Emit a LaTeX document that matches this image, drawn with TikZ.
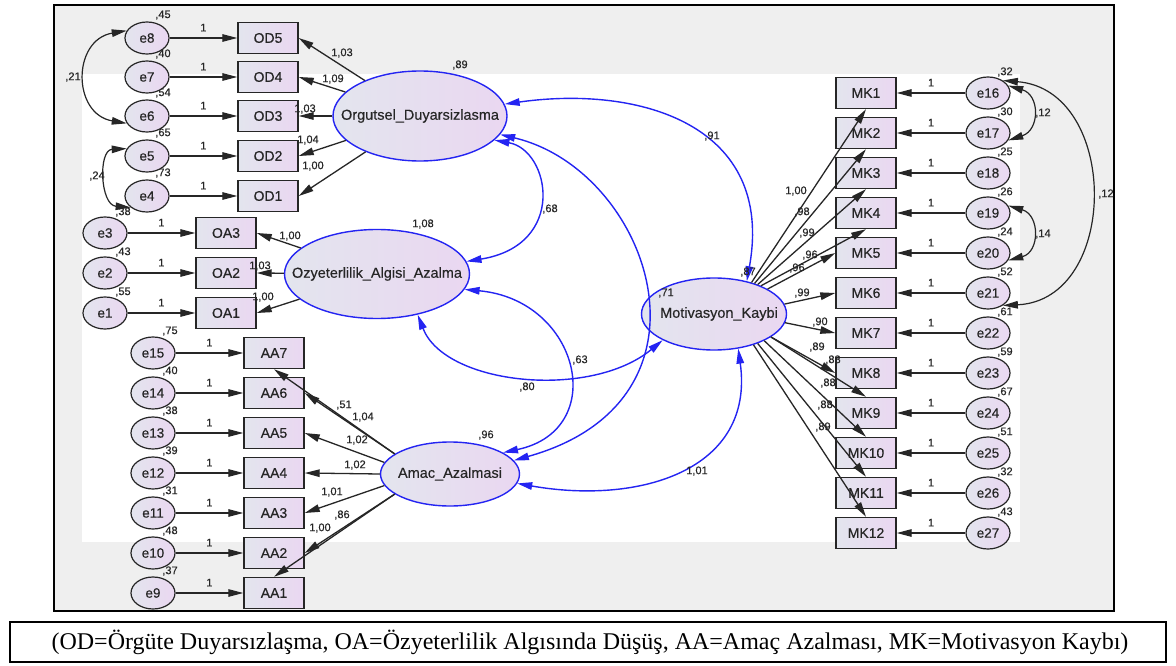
\documentclass[tikz,border=0pt]{standalone}
\usepackage{fontspec}
\setmainfont{Liberation Serif}
\setsansfont{Liberation Sans}
\newfontfamily\amosfont{Liberation Sans}[FakeBold=0.35]
\usetikzlibrary{arrows.meta,positioning,calc,shapes.geometric}
\definecolor{ink}{HTML}{262626}
\definecolor{covblue}{HTML}{2424F2}
\definecolor{fillA}{HTML}{E3E5EE}
\definecolor{fillB}{HTML}{EAD7F1}
\definecolor{panel}{HTML}{EFEFEF}
\tikzset{
  obs/.style={draw=ink,line width=1.4pt,minimum width=60pt,minimum height=31pt,inner sep=0pt,
    left color=fillA,right color=fillB,font=\amosfont\fontsize{14}{14}\selectfont,text=ink},
  err/.style={ellipse,draw=ink,line width=1.2pt,minimum width=44pt,minimum height=32pt,inner sep=0pt,
    left color=fillA,right color=fillB,font=\amosfont\fontsize{13.5}{14}\selectfont,text=ink},
  lat/.style 2 args={ellipse,draw=covblue,line width=1.4pt,inner sep=0pt,minimum width=#1pt,
    minimum height=#2pt,left color=fillA,right color=fillB},
  latname/.style={inner sep=0pt,font=\amosfont\fontsize{14.5}{15}\selectfont,text=ink},
  arr/.style={-{Triangle[length=15pt,width=7.5pt]},line width=1.3pt,draw=ink},
  covar/.style={{Triangle[length=15pt,width=7.5pt]}-{Triangle[length=15pt,width=7.5pt]},
    line width=1.4pt,draw=covblue},
  ecov/.style={covar,draw=ink,line width=1.2pt},
  num/.style={inner sep=0pt,font=\amosfont\fontsize{11}{11}\selectfont,text=ink}
}

\begin{document}
\begin{tikzpicture}[x=1pt,y=-1pt]
 \useasboundingbox (0,0) rectangle (1176,666);
 \fill[white] (0,0) rectangle (1176,666);
 % frame
 \draw[line width=2pt,fill=panel] (54,5) rectangle (1114,611);
 \fill[white] (82,74) rectangle (1020,542);
 \draw[line width=1.6pt] (10,622) rectangle (1166,662);
 \node[font=\rmfamily\fontsize{24}{24}\selectfont] (cap) at (590,642)
   {(OD=Örgüte Duyarsızlaşma, OA=Özyeterlilik Algısında Düşüş, AA=Amaç Azalması, MK=Motivasyon Kaybı)};

 % latent variables
 \node[lat={174}{90}] (org) at (420,116) {};
 \node[latname] (orgname) at (org) {Orgutsel\_Duyarsizlasma};
 \node[lat={185}{89}] (oza) at (377,274) {};
 \node[latname] (ozaname) at (oza) {Ozyeterlilik\_Algisi\_Azalma};
 \node[lat={139}{64}] (amac) at (450,474) {};
 \node[latname] (amacname) at (amac) {Amac\_Azalmasi};
 \node[lat={145}{72}] (mot) at (714,314) {};
 \node[latname] (motname) at (719,314) {Motivasyon\_Kaybi};

 % indicators with their errors
 \foreach \k/\y/\v in {1/196/{,73},2/156/{,65},3/116/{,54},4/77/{,40},5/38/{,45}}{
   \pgfmathtruncatemacro\e{\k+3}
   \node[err] (e\e) at (147,\y) {e\e};
   \node[obs] (od\k) at (268,\y) {OD\k};
   \node[num] (ve\e) at (163,\y-23) {\v};
   \draw[arr] (e\e) -- node[num,above=6pt] (one\e) {1} (od\k);
 }
 \foreach \k/\y/\v in {1/313/{,55},2/273/{,43},3/233/{,38}}{
   \node[err] (e\k) at (105,\y) {e\k};
   \node[obs] (oa\k) at (226,\y) {OA\k};
   \node[num] (ve\k) at (123,\y-21) {\v};
   \draw[arr] (e\k) -- node[num,above=6pt] (one\k) {1} (oa\k);
 }
 \foreach \k/\v in {1/{,37},2/{,48},3/{,31},4/{,39},5/{,38},6/{,40},7/{,75}}{
   \pgfmathtruncatemacro\e{\k+8}
   \node[err] (e\e) at (153,633-40*\k) {e\e};
   \node[obs] (aa\k) at (274,633-40*\k) {AA\k};
   \node[num] (ve\e) at (170,611-40*\k) {\v};
   \draw[arr] (e\e) -- node[num,above=6pt] (one\e) {1} (aa\k);
 }
 \foreach \k/\v in {1/{,32},2/{,30},3/{,25},4/{,26},5/{,24},6/{,52},7/{,61},8/{,59},9/{,67},10/{,51},11/{,32},12/{,43}}{
   \pgfmathtruncatemacro\e{\k+15}
   \node[err] (e\e) at (988,53+40*\k) {e\e};
   \node[obs] (mk\k) at (866,53+40*\k) {MK\k};
   \node[num] (ve\e) at (1005,32+40*\k) {\v};
   \draw[arr] (e\e) -- node[num,above=6pt] (one\e) {1} (mk\k);
 }

 % loadings
 \foreach \k in {1,...,5} \draw[arr] (org) -- (od\k.east);
 \foreach \k in {1,2,3} \draw[arr] (oza) -- (oa\k.east);
 \foreach \k/\a/\t in {7/160/south,6/160/east,5/170/east,4/180/east,3/190/east,2/200/east,1/200/north}
   \draw[arr] (amac.\a) -- (aa\k.\t);
 \foreach \k/\a/\t in {1/40/south,2/37/south,3/34/south,4/31/south,5/25/west,6/8/west,
   7/-7/west,8/-22/west,9/-22/north,10/-28/north,11/-34/north,12/-38/north}
   \draw[arr] (mot.\a) -- (mk\k.\t);

 % covariances
 \draw[covar] (org.8) .. controls (640,85) and (775,125) .. (mot.45);
 \draw[covar] (org.-13) .. controls (650,170) and (730,400) .. (amac.12);
 \draw[covar] (org.-18) .. controls (550,150) and (568,245) .. (oza.8);
 \draw[covar] (oza.-10) .. controls (580,300) and (610,430) .. (amac.22);
 \draw[covar] (oza.-45) .. controls (445,385) and (590,400) .. (mot.-153);
 \draw[covar] (amac.-8) .. controls (640,505) and (755,470) .. (mot.-55);
 \draw[ecov] (e8.160) .. controls (72,40) and (72,114) .. (e6.200);
 \draw[ecov] (e5.160) .. controls (98,150) and (100,205) .. (e4.215);
 \draw[ecov] (e16.20) .. controls (1040,95) and (1040,130) .. (e17.-20);
 \draw[ecov] (e19.20) .. controls (1040,215) and (1040,252) .. (e20.-20);
 \draw[ecov] (e16.40) .. controls (1120,90) and (1120,300) .. (e21.-40);

 % estimates
 \foreach[count=\n] \x/\y/\t in {342/53/{1,03},333/79/{1,09},305/109/{1,03},308/140/{1,04},313/166/{1,00},
   290/236/{1,00},260/266/{1,03},263/297/{1,00},
   344/405/{,51},363/417/{1,04},357/440/{1,02},355/465/{1,02},332/492/{1,01},342/515/{,86},320/528/{1,00},
   796/191/{1,00},802/212/{,98},807/233/{,99},810/255/{,96},797/268/{,96},802/293/{,99},
   820/322/{,90},817/347/{,89},833/360/{,88},828/383/{,88},825/405/{,88},823/427/{,89},
   460/65/{,89},423/224/{1,08},486/435/{,96},748/272/{,87},
   712/136/{,91},550/209/{,68},580/360/{,63},527/387/{,80},666/293/{,71},697/471/{1,01},
   73/77/{,21},97/176/{,24},1043/113/{,12},1043/234/{,14},1106/194/{,12}}
   \node[num] (est\n) at (\x,\y) {\t};
\end{tikzpicture}
\end{document}
